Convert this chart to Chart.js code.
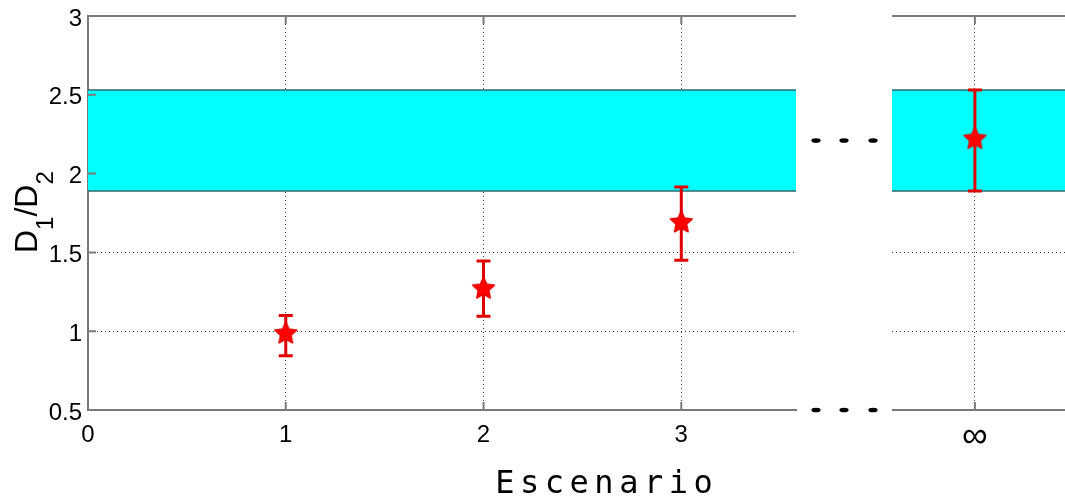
<!DOCTYPE html>
<html>
<head>
<meta charset="utf-8">
<title>D1/D2 por escenario</title>
<script src="https://cdn.jsdelivr.net/npm/chart.js@4.4.1/dist/chart.umd.min.js"></script>
<style>
  html, body { margin: 0; padding: 0; background: #fff; overflow: hidden; }
  #wrap { position: relative; width: 1065px; height: 502px; overflow: hidden; }
  #mainChart { position: absolute; left: 0; top: 0; }
  #infChart { position: absolute; left: 892px; top: 0; }
</style>
</head>
<body>
<div id="wrap">
  <canvas id="mainChart" width="892" height="502"></canvas>
  <canvas id="infChart" width="220" height="502"></canvas>
</div>
<script>
// Finite scenarios: mean D1/D2 with lower / upper error limits
const scenarios = [1, 2, 3];
const ratioMean = [0.985, 1.27, 1.69];
const ratioLow = [0.845, 1.095, 1.45];
const ratioHigh = [1.10, 1.445, 1.915];

// Limit scenario, plotted at a stand-in position and labelled with ∞
const infPosition = 5;
const infMean = 2.22;
const infLow = 1.89;
const infHigh = 2.53;

// Tick labels
const xTicks = [0, 1, 2, 3];
const yTicks = [0.5, 1, 1.5, 2, 2.5, 3];

// Axis limits (both x axes share the same units per pixel)
const mainXMax = 3.58;
const infXMin = infPosition - 0.419;
const infXMax = infXMin + 1.112;

const axisGray = '#7a7a7a';
const gridDots = '#3c3c3c';
const bandFill = '#00ffff';
const bandEdge = '#2e6b6b';
const clear = 'rgba(0,0,0,0)';
const tickFont = { family: 'Liberation Sans', size: 24 };

// filled five-point star used as marker
function makeStar(r) {
  const c = document.createElement('canvas');
  const s = Math.ceil(r * 2 + 4);
  c.width = c.height = s;
  const g = c.getContext('2d');
  g.translate(s / 2, s / 2);
  g.beginPath();
  for (let i = 0; i < 10; i++) {
    const rad = i % 2 ? r * 0.48 : r;
    const a = -Math.PI / 2 + i * Math.PI / 5;
    g.lineTo(rad * Math.cos(a), rad * Math.sin(a));
  }
  g.closePath();
  g.fillStyle = '#ff0000';
  g.fill();
  g.lineJoin = 'round';
  g.lineWidth = 1.5;
  g.strokeStyle = '#e80000';
  g.stroke();
  return c;
}
const star = makeStar(11.5);

// error bars, drawn just before the star markers (dataset 0)
const errorBars = {
  id: 'errorBars',
  beforeDatasetDraw(chart, args, opts) {
    if (args.index !== 0) return;
    const { x, y } = chart.scales;
    const ctx = chart.ctx;
    ctx.save();
    ctx.strokeStyle = '#e00000';
    ctx.lineWidth = 3;
    opts.xs.forEach((xv, i) => {
      const px = x.getPixelForValue(xv);
      const top = y.getPixelForValue(opts.high[i]);
      const bot = y.getPixelForValue(opts.low[i]);
      ctx.beginPath();
      ctx.moveTo(px, top); ctx.lineTo(px, bot);
      ctx.moveTo(px - 7, top); ctx.lineTo(px + 7, top);
      ctx.moveTo(px - 7, bot); ctx.lineTo(px + 7, bot);
      ctx.stroke();
    });
    ctx.restore();
  }
};

// top edge of the box and the inward tick marks
const frame = {
  id: 'frame',
  afterDraw(chart, args, opts) {
    const { ctx, chartArea: a } = chart;
    const { x, y } = chart.scales;
    ctx.save();
    ctx.strokeStyle = axisGray;
    ctx.lineWidth = 2;
    ctx.beginPath();
    ctx.moveTo(a.left, a.top); ctx.lineTo(a.right, a.top);
    x.ticks.forEach(t => {
      const px = x.getPixelForValue(t.value);
      ctx.moveTo(px, a.bottom); ctx.lineTo(px, a.bottom - 8);
      ctx.moveTo(px, a.top); ctx.lineTo(px, a.top + 8);
    });
    if (opts.leftTicks) {
      y.ticks.forEach(t => {
        const py = y.getPixelForValue(t.value);
        ctx.moveTo(a.left, py); ctx.lineTo(a.left + 8, py);
      });
    }
    ctx.stroke();
    ctx.restore();
  }
};

// axis titles and the break marks between the two axes
const labels = {
  id: 'labels',
  afterDraw(chart) {
    const { ctx, chartArea: a } = chart;
    const y = chart.scales.y;
    ctx.save();

    // y title: D1/D2 with subscripts, rotated
    ctx.translate(37, 253);
    ctx.rotate(-Math.PI / 2);
    ctx.fillStyle = '#000';
    ctx.textBaseline = 'alphabetic';
    const big = '32px "Liberation Sans"';
    const small = '24px "Liberation Sans"';
    let cx = 0;
    [['D', big, 0], ['1', small, 16], ['/', big, 0], ['D', big, 0], ['2', small, 16]].forEach(([t, f, dy]) => {
      ctx.font = f;
      ctx.fillText(t, cx, dy);
      cx += ctx.measureText(t).width;
    });
    ctx.restore();

    // x title
    ctx.save();
    ctx.fillStyle = '#000';
    ctx.font = '32px "DejaVu Sans Mono"';
    ctx.letterSpacing = '5.5px';
    ctx.textAlign = 'center';
    ctx.textBaseline = 'alphabetic';
    ctx.fillText('Escenario', 604 + 2.75, 493);
    ctx.restore();

    // "..." break marks
    ctx.save();
    ctx.fillStyle = '#000';
    const rows = [y.getPixelForValue((infLow + infHigh) / 2), a.bottom];
    rows.forEach(py => {
      [20, 48, 77].forEach(dx => {
        ctx.beginPath();
        ctx.ellipse(a.right + dx, py, 4.6, 2.3, 0, 0, Math.PI * 2);
        ctx.fill();
      });
    });
    ctx.restore();
  }
};

function yScale(withLabels) {
  return {
    type: 'linear',
    min: 0.5,
    max: 3,
    afterBuildTicks: s => { s.ticks = yTicks.map(v => ({ value: v })); },
    ticks: {
      display: withLabels,
      font: tickFont,
      color: '#000',
      padding: 6,
      labelOffset: 3,
      callback: v => String(v)
    },
    grid: {
      color: c => (c.tick && (c.tick.value === 0.5 || c.tick.value === 3)) ? clear : gridDots,
      lineWidth: 1,
      drawTicks: false
    },
    border: { display: withLabels, color: axisGray, width: 2, dash: [1, 3] },
    afterFit: s => { s.width = withLabels ? 88 : 0; s.paddingTop = 0; s.paddingBottom = 0; }
  };
}

function xScale(min, max, tickValues, label, font, pad, skipFirstGrid) {
  return {
    type: 'linear',
    min: min,
    max: max,
    afterBuildTicks: s => { s.ticks = tickValues.map(v => ({ value: v })); },
    ticks: {
      font: font,
      color: '#000',
      padding: pad,
      maxRotation: 0,
      autoSkip: false,
      callback: label
    },
    grid: {
      color: c => (skipFirstGrid && c.tick && c.tick.value === min) ? clear : gridDots,
      lineWidth: 1,
      drawTicks: false
    },
    border: { color: axisGray, width: 2, dash: [1, 3] },
    afterFit: s => { s.height = 92; s.paddingLeft = 0; s.paddingRight = 0; }
  };
}

function bandSets(x0, x1) {
  return [
    {
      data: [{ x: x0, y: infHigh }, { x: x1, y: infHigh }],
      borderColor: bandEdge, borderWidth: 1.5, pointRadius: 0,
      backgroundColor: bandFill, fill: '+1', order: 2
    },
    {
      data: [{ x: x0, y: infLow }, { x: x1, y: infLow }],
      borderColor: bandEdge, borderWidth: 1.5, pointRadius: 0,
      fill: false, order: 1
    }
  ];
}

const common = {
  responsive: false,
  animation: false,
  devicePixelRatio: 1,
  plugins: { legend: { display: false }, tooltip: { enabled: false } }
};

new Chart(document.getElementById('mainChart'), {
  type: 'line',
  data: {
    datasets: [
      {
        data: scenarios.map((s, i) => ({ x: s, y: ratioMean[i] })),
        showLine: false, pointStyle: star, pointRadius: 11, order: 0
      },
      ...bandSets(0, mainXMax)
    ]
  },
  options: {
    ...common,
    layout: { autoPadding: false, padding: { left: 0, right: 96, top: 16, bottom: 0 } },
    plugins: {
      ...common.plugins,
      errorBars: { xs: scenarios, low: ratioLow, high: ratioHigh },
      frame: { leftTicks: true }
    },
    scales: {
      x: xScale(0, mainXMax, xTicks, v => String(v), tickFont, 11, true),
      y: yScale(true)
    }
  },
  plugins: [errorBars, frame, labels]
});

new Chart(document.getElementById('infChart'), {
  type: 'line',
  data: {
    datasets: [
      {
        data: [{ x: infPosition, y: infMean }],
        showLine: false, pointStyle: star, pointRadius: 11, order: 0
      },
      ...bandSets(infXMin, infXMax)
    ]
  },
  options: {
    ...common,
    layout: { autoPadding: false, padding: { left: 0, right: 0, top: 16, bottom: 0 } },
    plugins: {
      ...common.plugins,
      errorBars: { xs: [infPosition], low: [infLow], high: [infHigh] },
      frame: { leftTicks: false }
    },
    scales: {
      x: xScale(infXMin, infXMax, [infPosition], () => '∞', { family: 'Liberation Sans', size: 36 }, 5, false),
      y: yScale(false)
    }
  },
  plugins: [errorBars, frame]
});
</script>
</body>
</html>
